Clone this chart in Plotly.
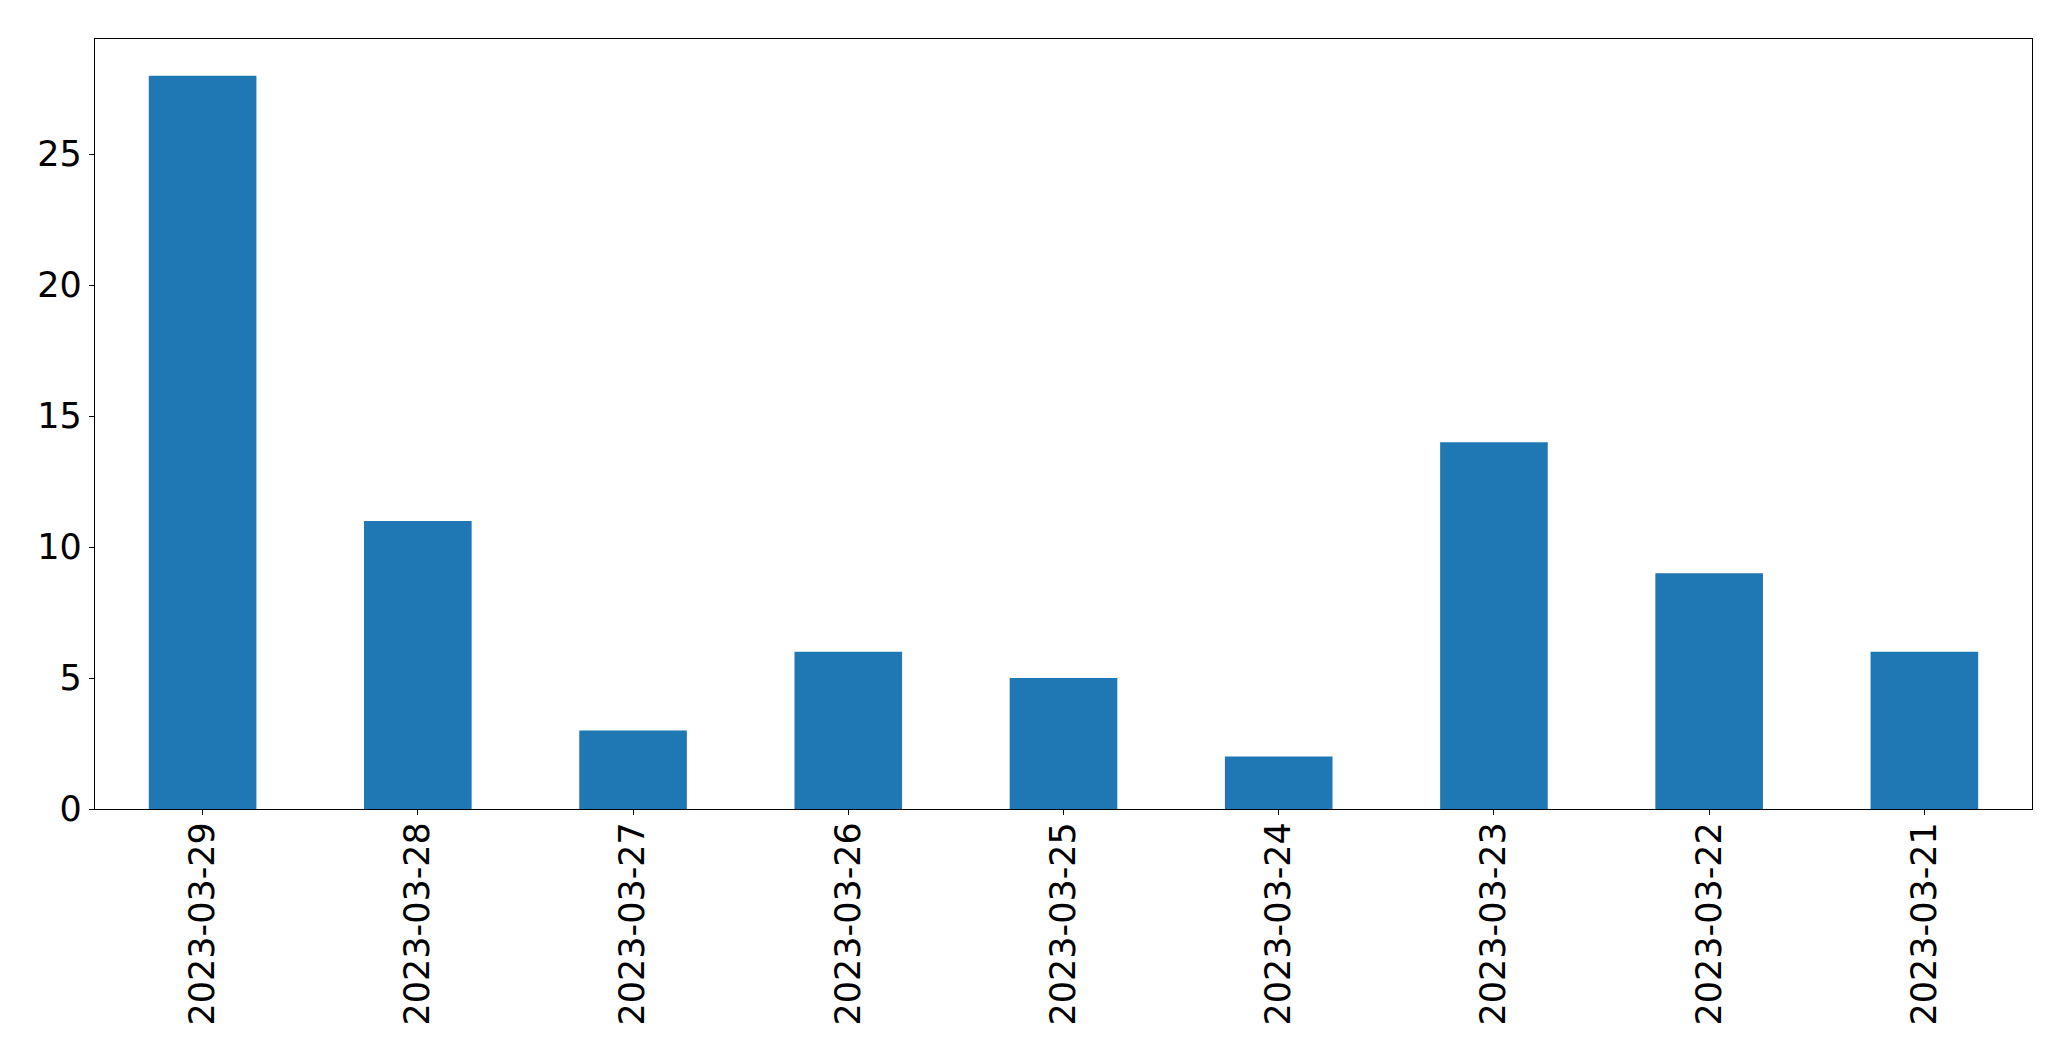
import plotly.graph_objects as go

dates = ["2023-03-29", "2023-03-28", "2023-03-27", "2023-03-26", "2023-03-25",
         "2023-03-24", "2023-03-23", "2023-03-22", "2023-03-21"]
counts = [28, 11, 3, 6, 5, 2, 14, 9, 6]
y_ticks = [0, 5, 10, 15, 20, 25]

fig = go.Figure(go.Bar(x=dates, y=counts, width=0.5, marker_color="#1f77b4",
                       marker_line_width=0))

fig.update_layout(
    width=2071, height=1061,
    margin=dict(l=95, r=39, t=39, b=252),
    paper_bgcolor="white", plot_bgcolor="white",
    font=dict(family="DejaVu Sans", size=35, color="black"),
    showlegend=False,
)
fig.update_xaxes(type="category", range=[-0.5, 8.5], tickangle=-90,
                 showline=True, linecolor="black", linewidth=1.3, mirror=True,
                 ticks="outside", ticklen=5, tickwidth=1.3, tickcolor="black",
                 ticklabelstandoff=-7,
                 showgrid=False, zeroline=False)
fig.update_yaxes(range=[0, 29.4], tickvals=y_ticks,
                 showline=True, linecolor="black", linewidth=1.3, mirror=True,
                 ticks="outside", ticklen=5, tickwidth=1.3, tickcolor="black",
                 showgrid=False, zeroline=False)

fig.write_html("out.html", config={"displayModeBar": False},
               post_script="document.body.style.margin='0';")
